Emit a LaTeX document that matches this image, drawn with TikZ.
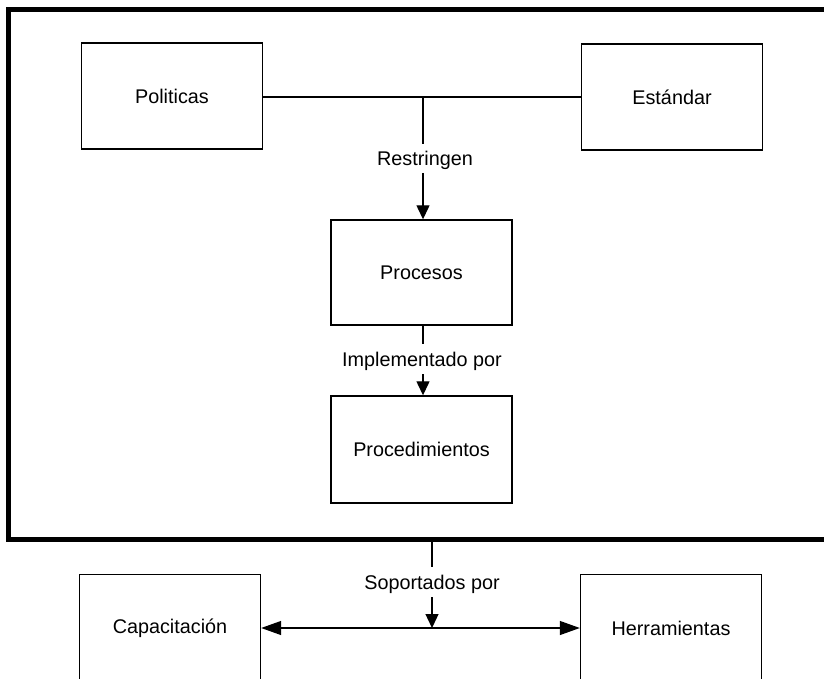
\documentclass[tikz,border=0pt]{standalone}
\usepackage{fontspec}
\setmainfont{Liberation Sans}
\usetikzlibrary{arrows.meta}
\begin{document}
\begin{tikzpicture}[x=1pt,y=-1pt,
  box/.style={draw=black,line width=1.4pt,minimum width=181pt,minimum height=106pt,inner sep=0pt,font=\fontsize{19.8}{23}\selectfont},
  lbl/.style={font=\fontsize{19.8}{23}\selectfont,inner sep=1pt},
  conn/.style={draw=black,line width=1.3pt},
  vtip/.style={-{Triangle[length=14pt,width=13pt]}},
  htips/.style={{Triangle[length=20pt,width=14pt]}-{Triangle[length=20pt,width=14pt]}}]
\useasboundingbox (0,0) rectangle (824,679);
% outer frame, running off the right edge
\draw[line width=5pt] (900,10) -- (8,10) -- (8,539) -- (900,539);
% upper group
\node[box] (pol) at (172,96) {Politicas};
\node[box] (est) at (672,97) {Estándar};
\node[box,minimum height=105pt] (proc) at (421.5,272.5) {Procesos};
\node[box,minimum height=107pt] (pcd) at (421.5,449.5) {Procedimientos};
\coordinate (j1) at (423,97);
\draw[conn] (pol.east |- j1) -- (est.west |- j1);
\node[lbl] (r) at (425,160) {Restringen};
\draw[conn] (j1) -- (423,144);
\draw[conn,vtip] (423,173) -- (proc.north -| j1);
\node[lbl] (ip) at (422,361) {Implementado por};
\draw[conn] (proc.south -| j1) -- (423,344);
\draw[conn,vtip] (423,374) -- (pcd.north -| j1);
% lower group
\node[box,minimum height=140pt,anchor=north] (cap) at (170,574) {};
\node[lbl] at (170,628) {Capacitación};
\node[box,minimum height=140pt,anchor=north] (her) at (671,574) {};
\node[lbl] at (671,628) {Herramientas};
\coordinate (j2) at (432,628);
\draw[conn] (432,541) -- (432,567);
\node[lbl] (sp) at (432,584) {Soportados por};
\draw[conn,vtip] (432,597) -- (j2);
\draw[conn,htips] (cap.east |- j2) -- (her.west |- j2);
\end{tikzpicture}
\end{document}
